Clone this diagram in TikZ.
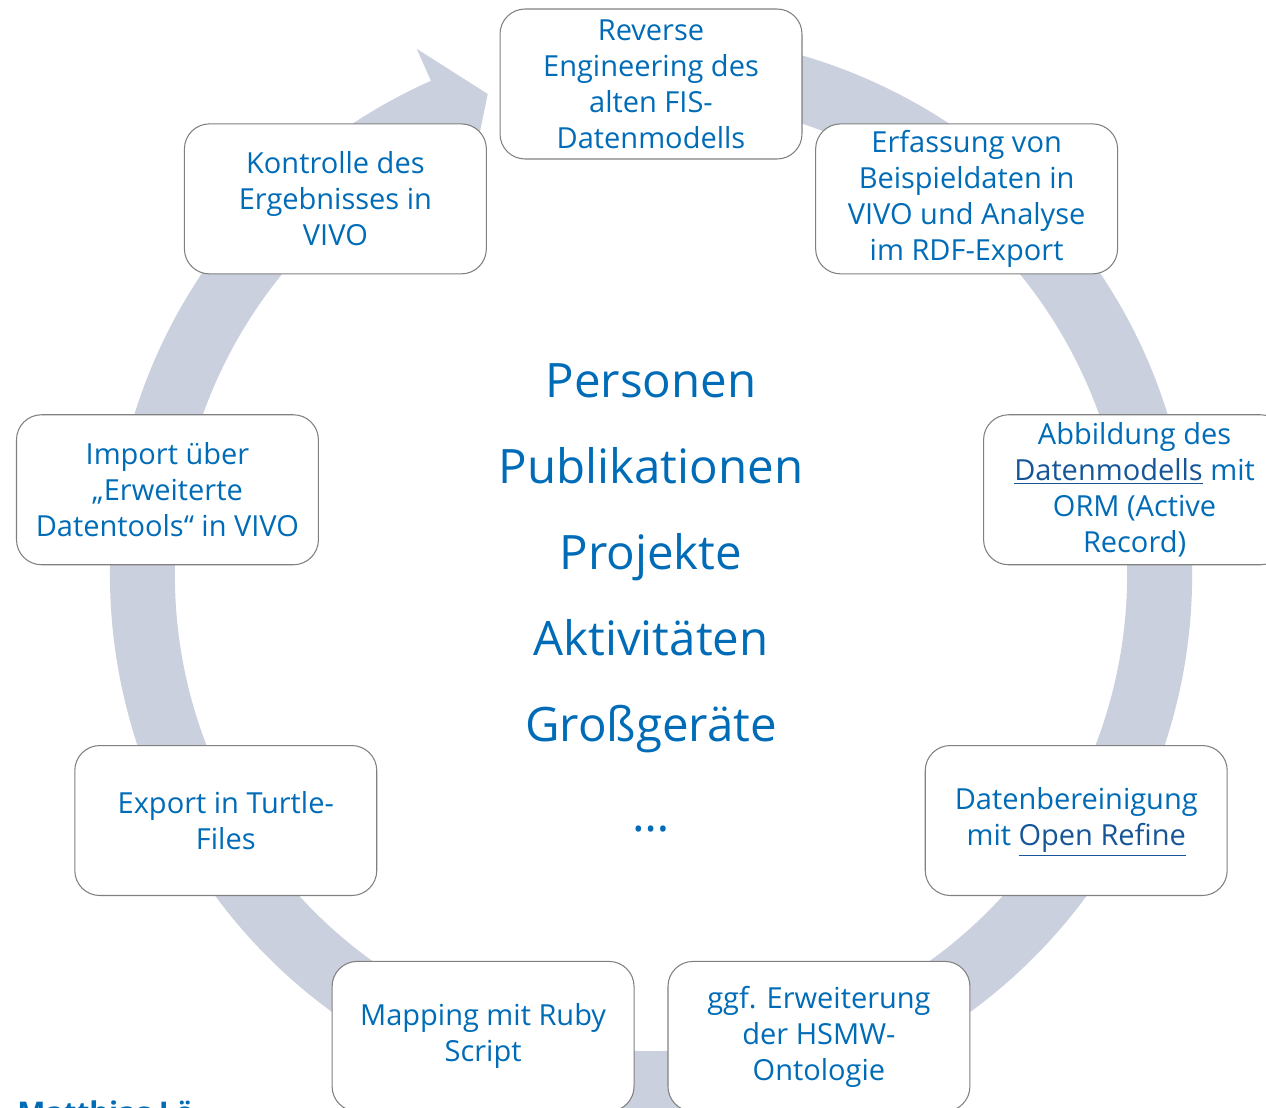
\documentclass[tikz,border=0pt]{standalone}
\usepackage{fontspec}
\setmainfont{Open Sans}
\usetikzlibrary{positioning}
\definecolor{textblue}{RGB}{0,108,183}
\definecolor{linkblue}{RGB}{22,86,152}
\definecolor{ringgrey}{RGB}{203,208,222}
\definecolor{framegrey}{RGB}{128,128,128}
\newcommand{\link}[1]{\textcolor{linkblue}{\underline{#1}}}

\begin{document}
\begin{tikzpicture}[
  x=0.02cm, y=0.02cm,
  stage/.style={rectangle, rounded corners=0.5cm, draw=framegrey, line width=0.6pt, fill=white,
    minimum width=6.04cm, minimum height=3cm, align=center, text=textblue,
    font=\fontsize{16.5}{20.5}\selectfont},
  topic/.style={anchor=base, text=textblue, font=\fontsize{27}{32}\selectfont},
  author/.style={anchor=base west, inner sep=0pt, text=textblue, font=\fontsize{17}{20}\selectfont\bfseries}
]
\useasboundingbox (0,0) rectangle (1266,-1107);

\begin{scope}[shift={(651,-575)}]
% ring with arrow head
\fill[ringgrey] (103:541) arc[start angle=103, end angle=-246, radius=541]
  -- (114:576) -- (108.75:508) -- (114:441) -- (114:476)
  arc[start angle=-246, end angle=103, radius=476] -- cycle;

% stages of the cycle
\node[stage] (reverse)  at (90:491)   {Reverse\\Engineering des\\alten FIS-\\Datenmodells};
\node[stage] (capture)  at (50:491)   {Erfassung von\\Beispieldaten in\\VIVO und Analyse\\im RDF-Export};
\node[stage] (orm)      at (10:491)   {Abbildung des\\\link{Datenmodells} mit\\ORM (Active\\Record)};
\node[stage] (cleanup)  at (-30:491)  {\strut Datenbereinigung\\mit \link{Open Refine}};
\node[stage] (ontology) at (-70:491)  {ggf. Erweiterung\\der HSMW-\\Ontologie};
\node[stage] (mapping)  at (-110:491) {Mapping mit Ruby\\Script};
\node[stage] (export)   at (-150:491) {Export in Turtle-\\Files};
\node[stage] (import)   at (170:491)  {Import über\\„Erweiterte\\Datentools“ in VIVO};
\node[stage] (check)    at (130:491)  {Kontrolle des\\Ergebnisses in\\VIVO};
\end{scope}

% entities in the middle
\node[topic] (persons)  at (651,-397) {Personen};
\node[topic] (pubs)     at (651,-483) {Publikationen};
\node[topic] (projects) at (651,-569) {Projekte};
\node[topic] (acts)     at (651,-655) {Aktivitäten};
\node[topic] (devices)  at (651,-741) {Großgeräte};
\node[topic] (more)     at (651,-831) {…};

\node[author] (author) at (17,-1123) {Matthias Lö};
\end{tikzpicture}
\end{document}
